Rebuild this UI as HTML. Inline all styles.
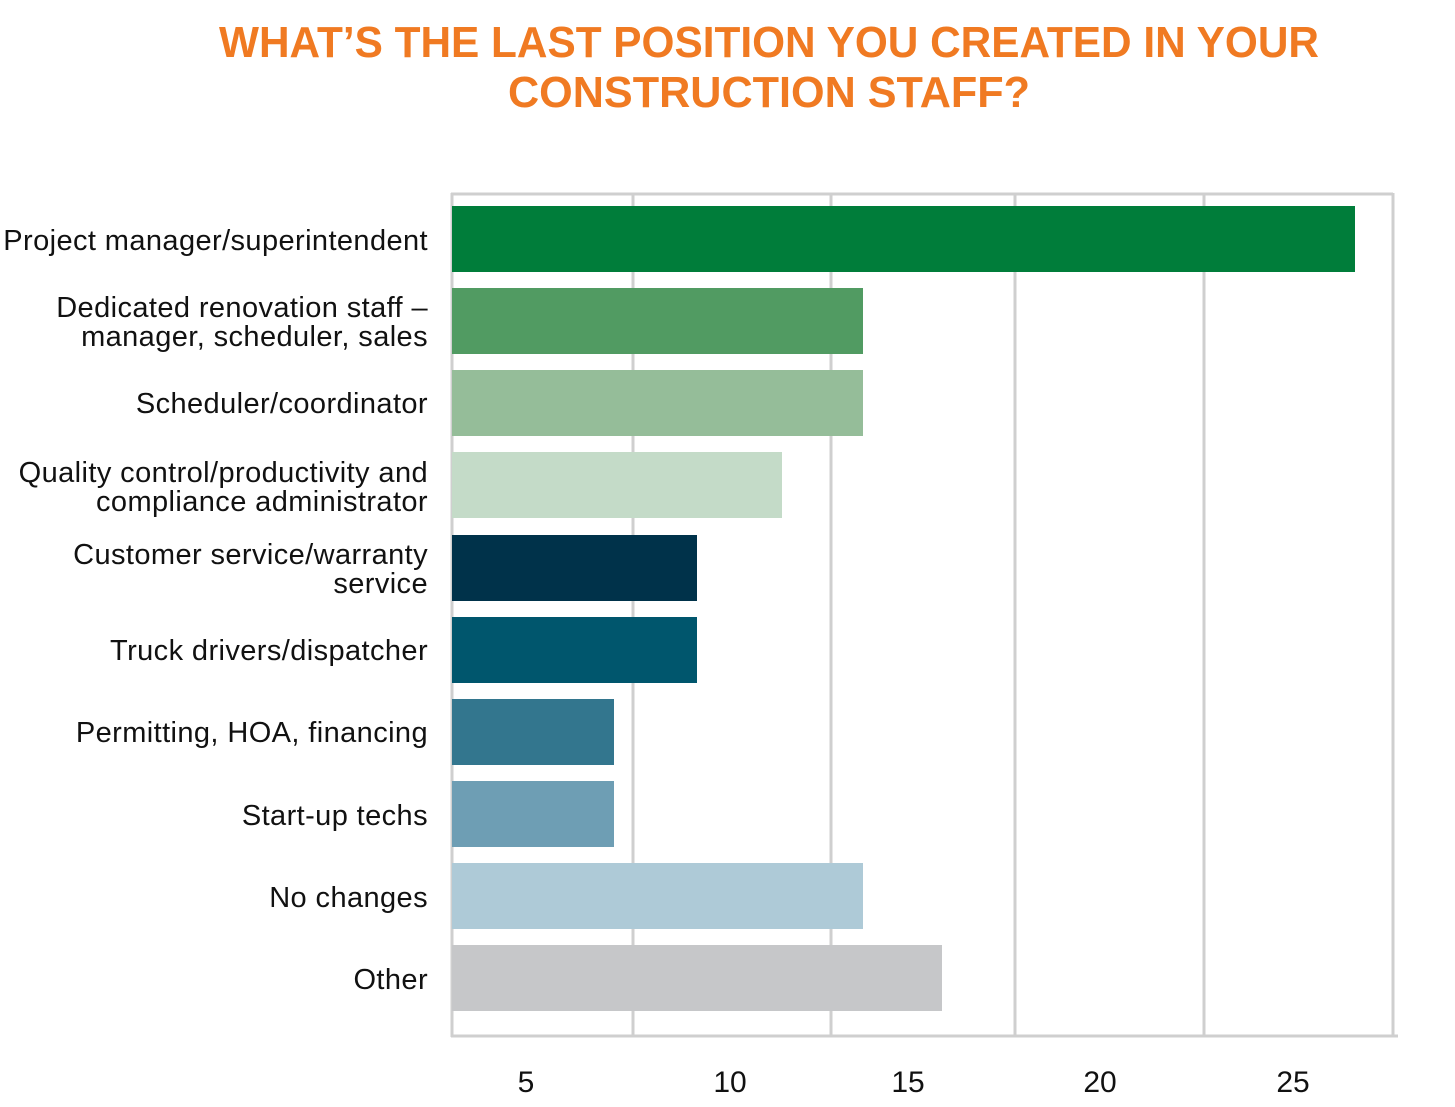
<!DOCTYPE html>
<html><head><meta charset="utf-8"><style>
html,body{margin:0;padding:0;background:#fff;}
svg{display:block;}
</style></head><body>
<svg width="1455" height="1107" viewBox="0 0 1455 1107" xmlns="http://www.w3.org/2000/svg">
<g font-family="Liberation Sans, sans-serif" font-weight="bold" fill="#f07a22" font-size="44" text-anchor="middle">
<text x="769" y="57" textLength="1100" lengthAdjust="spacingAndGlyphs">WHAT’S THE LAST POSITION YOU CREATED IN YOUR</text>
<text x="769" y="107" textLength="522" lengthAdjust="spacingAndGlyphs">CONSTRUCTION STAFF?</text>
</g>
<g stroke="#cfcfcf" stroke-width="3" fill="none">
<line x1="451" y1="194" x2="1393" y2="194"/>
<line x1="452" y1="193" x2="452" y2="1037"/>
<line x1="1393" y1="193" x2="1393" y2="1037"/>
<line x1="451" y1="1036" x2="1398" y2="1036"/>
<line x1="633" y1="193" x2="633" y2="1036"/>
<line x1="831" y1="193" x2="831" y2="1036"/>
<line x1="1015" y1="193" x2="1015" y2="1036"/>
<line x1="1204" y1="193" x2="1204" y2="1036"/>
</g>
<rect x="452" y="206" width="903" height="66" fill="#007d3a"/>
<rect x="452" y="288" width="411" height="66" fill="#519b62"/>
<rect x="452" y="370" width="411" height="66" fill="#95bd99"/>
<rect x="452" y="452" width="330" height="66" fill="#c4dbc8"/>
<rect x="452" y="535" width="245" height="66" fill="#00324a"/>
<rect x="452" y="617" width="245" height="66" fill="#00566d"/>
<rect x="452" y="699" width="162" height="66" fill="#33768e"/>
<rect x="452" y="781" width="162" height="66" fill="#6e9eb4"/>
<rect x="452" y="863" width="411" height="66" fill="#aecad7"/>
<rect x="452" y="945" width="490" height="66" fill="#c6c7c9"/>
<g font-family="Liberation Sans, sans-serif" font-size="29" fill="#111" text-anchor="end" letter-spacing="0.4">
<text x="428" y="250">Project manager/superintendent</text>
<text x="428" y="317">Dedicated renovation staff –</text>
<text x="428" y="346">manager, scheduler, sales</text>
<text x="428" y="413">Scheduler/coordinator</text>
<text x="428" y="482">Quality control/productivity and</text>
<text x="428" y="511">compliance administrator</text>
<text x="428" y="564">Customer service/warranty</text>
<text x="428" y="593">service</text>
<text x="428" y="660">Truck drivers/dispatcher</text>
<text x="428" y="742">Permitting, HOA, financing</text>
<text x="428" y="825">Start-up techs</text>
<text x="428" y="907">No changes</text>
<text x="428" y="989">Other</text>
</g>
<g font-family="Liberation Sans, sans-serif" font-size="30" fill="#111" text-anchor="middle">
<text x="526" y="1092">5</text>
<text x="730" y="1092">10</text>
<text x="908" y="1092">15</text>
<text x="1100" y="1092">20</text>
<text x="1293" y="1092">25</text>
</g>
</svg>
</body></html>
